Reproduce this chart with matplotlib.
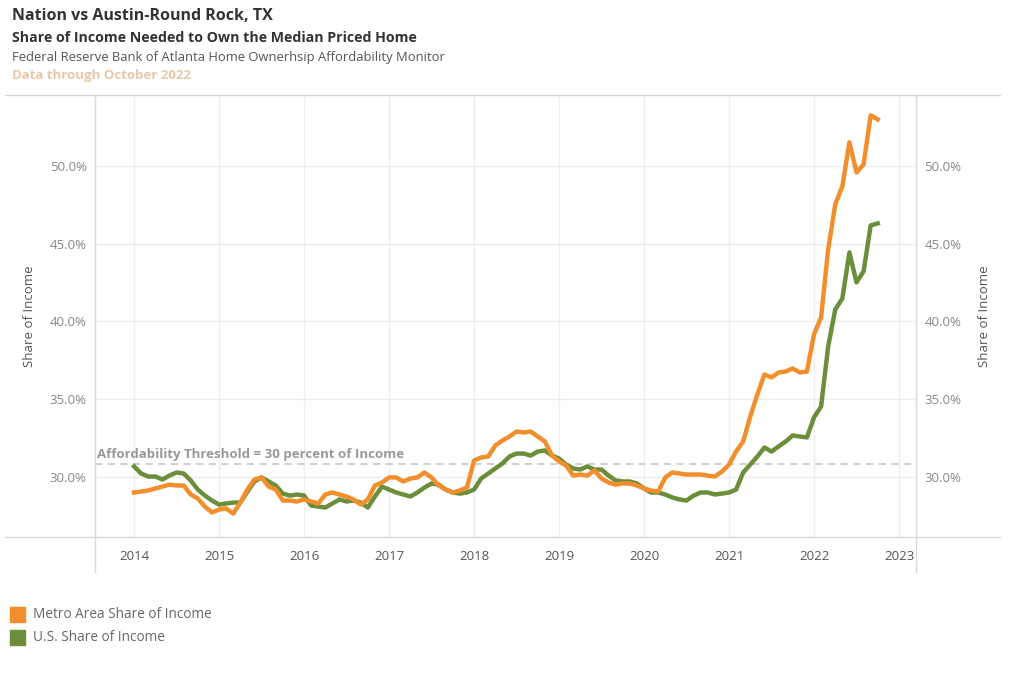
import numpy as np
import matplotlib
matplotlib.use("Agg")
import matplotlib.pyplot as plt
from matplotlib.lines import Line2D
from matplotlib.patches import Rectangle
from matplotlib.ticker import FuncFormatter

plt.rcParams['font.family'] = ['Open Sans', 'DejaVu Sans']

# --- Daten: monatlich, Jan 2014 bis Okt 2022 (Anteil am Einkommen in %) ---
start_year = 2014
metro_share = [
    28.97, 29.03, 29.10, 29.23, 29.35, 29.48, 29.42, 29.42, 28.84, 28.58, 28.06, 27.68,
    27.87, 27.94, 27.61, 28.32, 29.16, 29.81, 29.94, 29.35, 29.16, 28.45, 28.45, 28.39,
    28.52, 28.39, 28.26, 28.84, 28.97, 28.84, 28.71, 28.52, 28.19, 28.52, 29.42, 29.61,
    29.94, 29.94, 29.68, 29.87, 29.94, 30.26, 29.94, 29.42, 29.16, 28.97, 29.10, 29.29,
    31.03, 31.23, 31.29, 32.00, 32.32, 32.58, 32.90, 32.84, 32.90, 32.58, 32.26, 31.35,
    30.97, 30.71, 30.06, 30.13, 30.06, 30.39, 29.87, 29.61, 29.48, 29.55, 29.55, 29.42,
    29.23, 29.10, 29.03, 29.94, 30.26, 30.19, 30.13, 30.13, 30.13, 30.06, 30.00, 30.32,
    30.77, 31.61, 32.26, 33.87, 35.29, 36.58, 36.39, 36.71, 36.77, 36.97, 36.71, 36.77,
    39.16, 40.26, 44.65, 47.55, 48.71, 51.55, 49.61, 50.13, 53.29, 53.03,
]
us_share = [
    30.65, 30.19, 30.00, 30.00, 29.81, 30.06, 30.26, 30.19, 29.74, 29.16, 28.77, 28.45,
    28.19, 28.26, 28.32, 28.32, 29.03, 29.68, 29.94, 29.68, 29.42, 28.90, 28.77, 28.84,
    28.77, 28.13, 28.06, 28.00, 28.26, 28.52, 28.39, 28.45, 28.32, 28.00, 28.71, 29.35,
    29.16, 28.97, 28.84, 28.71, 28.97, 29.29, 29.55, 29.48, 29.16, 28.97, 28.90, 28.97,
    29.16, 29.87, 30.19, 30.52, 30.84, 31.29, 31.48, 31.48, 31.35, 31.61, 31.68, 31.35,
    31.16, 30.77, 30.52, 30.45, 30.65, 30.45, 30.45, 30.06, 29.74, 29.68, 29.68, 29.55,
    29.23, 28.97, 28.97, 28.84, 28.65, 28.52, 28.45, 28.77, 28.97, 28.97, 28.84, 28.90,
    28.97, 29.16, 30.26, 30.77, 31.29, 31.87, 31.61, 31.94, 32.26, 32.65, 32.58, 32.52,
    33.81, 34.52, 38.39, 40.77, 41.48, 44.45, 42.52, 43.23, 46.19, 46.32,
]
threshold = 30.78
years = list(range(2014, 2024))
y_ticks = [30, 35, 40, 45, 50]

orange = "#F28E2B"
green = "#6B8E3A"

t = start_year + np.arange(len(metro_share)) / 12.0

fig = plt.figure(figsize=(10.24, 6.77), dpi=100)
ax = fig.add_axes([95 / 1024, 1 - 537 / 677, (916 - 95) / 1024, (537 - 95) / 677])

ax.set_xlim(2013.54, 2023.2)
ax.set_ylim(26.1, 54.6)

for yr in years:
    ax.axvline(yr, color="#eeeeee", lw=1, zorder=0)
for yv in y_ticks:
    ax.axhline(yv, color="#eeeeee", lw=1, zorder=0)

ax.axhline(threshold, color="#cccccc", lw=1.3, ls=(0, (4, 3)), zorder=1)
ax.text(2013.56, threshold + 0.25, "Affordability Threshold = 30 percent of Income",
        color="#999999", fontsize=9.5, fontweight="bold", va="bottom", ha="left")

ax.plot(t, us_share, color=green, lw=3.2, zorder=3)
ax.plot(t, metro_share, color=orange, lw=3.2, zorder=4)

pct = FuncFormatter(lambda v, p: f"{v:.1f}%")

for s in ax.spines.values():
    s.set_visible(False)
ax.set_xticks(years)
ax.set_xticklabels([str(y) for y in years])
ax.set_yticks(y_ticks)
ax.yaxis.set_major_formatter(pct)
ax.tick_params(axis="both", length=0, colors="#888888", labelsize=9.5)
ax.tick_params(axis="x", colors="#555555", pad=9)
ax.tick_params(axis="y", pad=6)
ax.set_ylabel("Share of Income", color="#555555", fontsize=9.5, labelpad=10)

ax2 = ax.twinx()
ax2.set_ylim(ax.get_ylim())
ax2.set_yticks(y_ticks)
ax2.yaxis.set_major_formatter(pct)
ax2.tick_params(axis="y", length=0, colors="#888888", labelsize=9.5, pad=6)
for s in ax2.spines.values():
    s.set_visible(False)
ax2.set_ylabel("Share of Income", color="#555555", fontsize=9.5, labelpad=12)

# Rahmenlinien (figurweit)
line_col = "#d9d9d9"
fig.add_artist(Line2D([5 / 1024, 1000 / 1024], [1 - 95 / 677] * 2, color=line_col, lw=1))
fig.add_artist(Line2D([5 / 1024, 1000 / 1024], [1 - 537 / 677] * 2, color=line_col, lw=1))
fig.add_artist(Line2D([95 / 1024] * 2, [1 - 95 / 677, 1 - 572 / 677], color=line_col, lw=1))
fig.add_artist(Line2D([916 / 1024] * 2, [1 - 95 / 677, 1 - 572 / 677], color=line_col, lw=1))

# Titel
fig.text(12 / 1024, 1 - 20 / 677, "Nation vs Austin-Round Rock, TX", fontsize=11.5,
         fontweight="bold", color="#333333", va="baseline")
fig.text(12 / 1024, 1 - 42 / 677, "Share of Income Needed to Own the Median Priced Home",
         fontsize=10.2, fontweight="bold", color="#333333", va="baseline")
fig.text(12 / 1024, 1 - 61 / 677, "Federal Reserve Bank of Atlanta Home Ownerhsip Affordability Monitor",
         fontsize=9.4, color="#555555", va="baseline")
fig.text(12 / 1024, 1 - 79 / 677, "Data through October 2022", fontsize=9.5,
         fontweight="bold", color="#E9C7AA", va="baseline")

# Legende
for i, (lab, col) in enumerate([("Metro Area Share of Income", orange),
                                 ("U.S. Share of Income", green)]):
    ytop = 607 + i * 23
    fig.add_artist(Rectangle((10 / 1024, 1 - (ytop + 15) / 677), 15 / 1024, 15 / 677,
                             color=col, transform=fig.transFigure))
    fig.text(33 / 1024, 1 - (ytop + 7.5) / 677, lab, fontsize=9.8, color="#666666",
             va="center")

fig.savefig("out.png", dpi=100)
